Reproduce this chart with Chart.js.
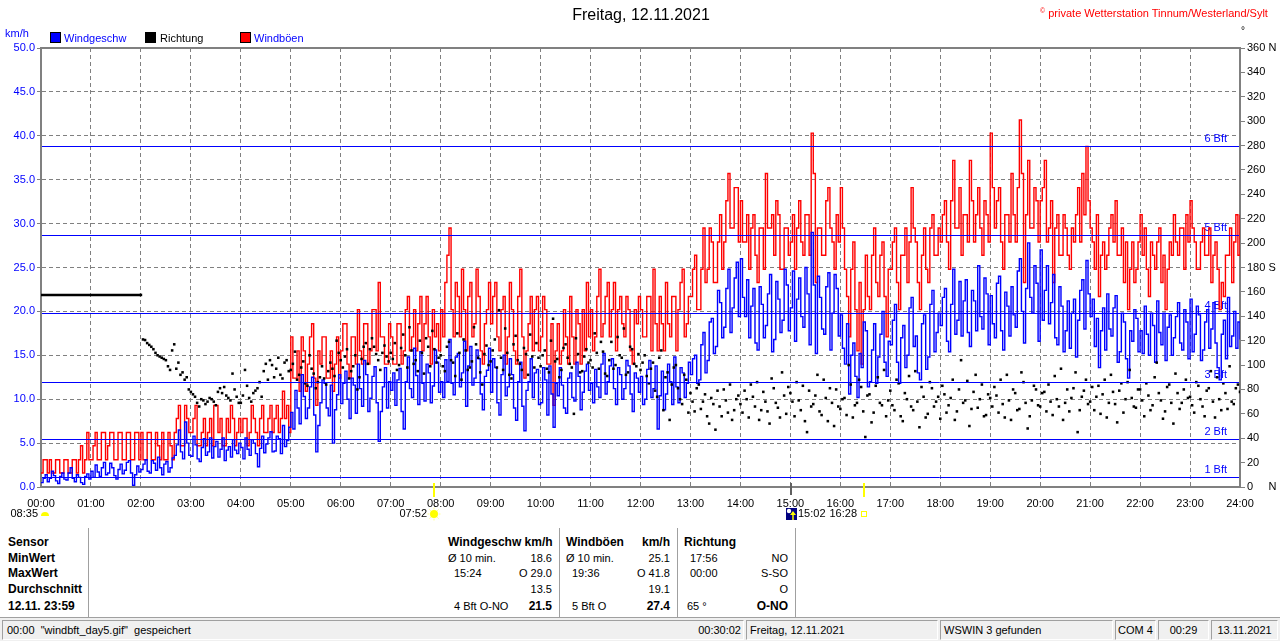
<!DOCTYPE html>
<html>
<head>
<meta charset="utf-8">
<script src="https://cdn.jsdelivr.net/npm/chart.js@4.4.1/dist/chart.umd.min.js"></script>
<style>
  html, body { margin: 0; padding: 0; background: #fff; }
  #wrap { position: relative; width: 1280px; height: 641px; overflow: hidden; font-family: "Liberation Sans", Arial, sans-serif; }
  #c { position: absolute; left: 0; top: 0; }
  .t { position: absolute; font-size: 11px; line-height: 14px; white-space: pre; color: #000; }
  .b { font-weight: bold; font-size: 12px; }
  .r { text-align: right; }
  .sep { position: absolute; top: 528px; width: 1px; height: 89px; background: #a0a0a0; }
  .sq { position: absolute; width: 9px; height: 9px; border: 1px solid #000; top: 32px; }
  #status { position: absolute; left: 0; top: 617px; width: 1280px; height: 24px; background: #f0f0f0; border-top: 1px solid #a0a0a0; }
  .pn { position: absolute; top: 2px; height: 18px; border-top: 1px solid #a0a0a0; border-left: 1px solid #a0a0a0; border-bottom: 1px solid #fff; border-right: 1px solid #fff; font-size: 11px; line-height: 18px; white-space: pre; overflow: hidden; }
</style>
</head>
<body>
<div id="wrap">
  <canvas id="c" width="1280" height="528"></canvas>

  <div class="t" style="left:0;width:1282px;top:5px;text-align:center;font-size:16px;line-height:20px;">Freitag, 12.11.2021</div>
  <div class="t" style="left:1040px;top:4px;color:#ff0000;"><span style="font-size:7px;vertical-align:4px;">©</span> private Wetterstation Tinnum/Westerland/Sylt</div>
  <div class="t" style="left:1241px;top:24px;font-size:10px;">°</div>
  <div class="t" style="left:5px;top:26px;color:#0000ff;">km/h</div>

  <div class="sq" style="left:50px;background:#0000ff;"></div>
  <div class="t" style="left:64px;top:31px;color:#0000ff;">Windgeschw</div>
  <div class="sq" style="left:145px;background:#000000;"></div>
  <div class="t" style="left:160px;top:31px;">Richtung</div>
  <div class="sq" style="left:240px;background:#ff0000;"></div>
  <div class="t" style="left:254px;top:31px;color:#0000ff;">Windböen</div>

  <!-- table -->
  <div class="sep" style="left:88px;"></div>
  <div class="sep" style="left:559px;"></div>
  <div class="sep" style="left:677px;"></div>
  <div class="sep" style="left:795px;"></div>

  <div class="t b" style="left:8px;top:535px;">Sensor</div>
  <div class="t b" style="left:8px;top:551px;">MinWert</div>
  <div class="t b" style="left:8px;top:566px;">MaxWert</div>
  <div class="t b" style="left:8px;top:582px;">Durchschnitt</div>
  <div class="t b" style="left:8px;top:599px;">12.11. 23:59</div>

  <div class="t b" style="left:448px;top:535px;">Windgeschw km/h</div>
  <div class="t" style="left:448px;top:551px;">Ø 10 min.</div>
  <div class="t r" style="right:728px;top:551px;">18.6</div>
  <div class="t" style="left:454px;top:566px;">15:24</div>
  <div class="t r" style="right:728px;top:566px;">O 29.0</div>
  <div class="t r" style="right:728px;top:582px;">13.5</div>
  <div class="t" style="left:454px;top:599px;">4 Bft O-NO</div>
  <div class="t b r" style="right:728px;top:599px;">21.5</div>

  <div class="t b" style="left:566px;top:535px;">Windböen</div>
  <div class="t b r" style="right:610px;top:535px;">km/h</div>
  <div class="t" style="left:566px;top:551px;">Ø 10 min.</div>
  <div class="t r" style="right:610px;top:551px;">25.1</div>
  <div class="t" style="left:572px;top:566px;">19:36</div>
  <div class="t r" style="right:610px;top:566px;">O 41.8</div>
  <div class="t r" style="right:610px;top:582px;">19.1</div>
  <div class="t" style="left:572px;top:599px;">5 Bft O</div>
  <div class="t b r" style="right:610px;top:599px;">27.4</div>

  <div class="t b" style="left:684px;top:535px;">Richtung</div>
  <div class="t" style="left:690px;top:551px;">17:56</div>
  <div class="t r" style="right:492px;top:551px;">NO</div>
  <div class="t" style="left:690px;top:566px;">00:00</div>
  <div class="t r" style="right:492px;top:566px;">S-SO</div>
  <div class="t r" style="right:492px;top:582px;">O</div>
  <div class="t" style="left:687px;top:599px;">65 °</div>
  <div class="t b r" style="right:492px;top:599px;">O-NO</div>

  <div id="status">
    <div class="pn" style="left:2px;width:740px;"><span style="position:absolute;left:4px;">00:00  "windbft_day5.gif"  gespeichert</span><span style="position:absolute;right:2px;">00:30:02</span></div>
    <div class="pn" style="left:746px;width:190px;"> Freitag, 12.11.2021</div>
    <div class="pn" style="left:940px;width:171px;"> WSWIN 3 gefunden</div>
    <div class="pn" style="left:1115px;width:39px;text-align:center;">COM 4</div>
    <div class="pn" style="left:1158px;width:49px;text-align:center;">00:29</div>
    <div class="pn" style="left:1211px;width:65px;text-align:center;">13.11.2021</div>
  </div>
</div>

<script>
// ---------------- DATA ----------------
// main readings every 5 minutes (00:00 .. 24:00), extra readings at hh:m2:30 / hh:m7:30
const STEP_MIN = 5;
const MID_OFFSET = 2.5;

const windSpeed = [
  0.5, 1.4, 1.0, 1.3, 0.4, 1.6, 0.8, 2.2, 0.6, 1.1, 0.3, 1.5,
  1.8, 2.5, 1.2, 2.8, 1.6, 2.2, 0.9, 2.6, 1.9, 3.0, 0.2, 2.4,
  2.0, 3.1, 1.6, 2.7, 3.4, 1.4, 2.9, 2.2, 3.6, 6.5, 3.2, 5.0,
  3.5, 4.8, 2.9, 5.5, 4.0, 3.3, 5.2, 4.3, 3.0, 4.6, 5.4, 3.8,
  4.5, 5.6, 3.6, 5.0, 2.3, 5.8, 4.9, 6.3, 4.1, 5.5, 7.0, 5.3,
  8.5, 11.0, 7.2, 10.3, 9.0, 12.5, 4.0, 9.6, 11.8, 8.1, 5.0, 10.5,
  9.5, 13.2, 7.8, 11.6, 14.0, 9.2, 12.8, 10.1, 13.7, 5.2, 11.4, 9.0,
  11.0, 9.3, 13.5, 6.6, 14.8, 10.2, 12.7, 15.4, 9.8, 13.0, 11.5, 14.2,
  12.0, 14.5, 16.8, 10.5, 15.2, 13.0, 9.2, 16.0, 12.4, 14.6, 8.8, 13.3,
  10.8, 13.6, 8.2, 15.0, 11.4, 12.8, 7.6, 14.2, 6.4, 12.0, 10.2, 13.4,
  9.6, 12.2, 13.8, 6.8, 10.4, 11.6, 8.4, 13.0, 9.8, 12.6, 10.8, 14.0,
  11.8, 13.4, 10.2, 15.2, 12.0, 14.6, 9.4, 12.8, 11.2, 13.8, 8.6, 12.4,
  12.6, 10.0, 14.4, 11.2, 6.6, 13.2, 10.6, 12.0, 14.8, 9.6, 13.0, 11.8,
  12.8, 15.0, 12.2, 17.6, 14.4, 19.2, 16.0, 21.0, 18.2, 24.8, 20.4, 25.6,
  26.0, 19.4, 17.0, 22.6, 15.6, 20.8, 18.4, 24.2, 16.8, 21.4, 19.0, 23.0,
  20.4, 16.6, 23.8, 18.2, 22.0, 29.0, 15.2, 21.6, 17.4, 24.4, 19.8, 22.6,
  19.6, 14.0, 10.6, 16.4, 10.2, 13.6, 17.8, 12.0, 18.6, 14.8, 20.0, 12.6,
  16.2, 20.8, 11.8, 18.4, 15.0, 21.6, 17.2, 12.2, 19.6, 14.8, 22.4, 17.6,
  18.4, 22.6, 15.4, 24.8, 19.0, 17.2, 23.6, 16.0, 21.2, 25.2, 18.0, 22.0,
  21.8, 17.0, 24.0, 15.6, 20.6, 22.8, 18.2, 26.0, 16.4, 27.8, 19.8, 23.2,
  27.0, 22.4, 18.6, 24.2, 16.2, 20.6, 17.8, 15.8, 21.4, 19.0, 23.6, 25.8,
  19.4, 16.0, 13.6, 20.4, 22.0, 17.2, 21.8, 15.4, 18.8, 12.4, 16.6, 19.2,
  17.8, 20.6, 15.0, 18.4, 21.2, 16.2, 14.4, 19.6, 17.0, 21.0, 15.6, 18.8,
  21.4, 17.4, 19.6, 15.6, 20.2, 18.0, 16.4, 12.2, 19.0, 21.6, 17.2, 15.8,
  16.8
];

const windSpeedMid = [
  1.0, 0.6, 1.8, 0.7, 1.2, 0.9, 1.6, 1.0, 1.4, 0.5, 1.2, 0.9,
  1.1, 1.7, 2.2, 1.4, 2.7, 1.3, 2.0, 1.5, 2.8, 1.6, 1.4, 1.7,
  2.6, 1.8, 3.0, 1.9, 2.2, 2.6, 1.7, 3.3, 4.8, 4.0, 7.4, 3.6,
  5.8, 3.2, 4.5, 3.6, 5.6, 4.6, 3.4, 5.6, 4.2, 3.4, 4.2, 5.0,
  3.2, 4.3, 5.4, 3.8, 4.4, 3.9, 5.6, 4.0, 5.8, 3.8, 4.6, 6.8,
  6.6, 9.0, 12.8, 7.8, 11.4, 8.2, 7.0, 12.2, 9.0, 11.6, 8.8, 12.8,
  11.8, 10.0, 12.4, 8.4, 11.2, 14.4, 8.6, 12.6, 9.6, 8.6, 13.6, 12.0,
  13.0, 12.2, 8.6, 12.0, 11.2, 15.8, 9.4, 11.8, 14.0, 9.6, 15.6, 10.8,
  10.2, 12.0, 11.8, 14.8, 11.4, 16.6, 13.8, 11.6, 15.6, 10.6, 12.6, 15.8,
  14.6, 9.6, 12.8, 10.4, 14.6, 9.0, 12.0, 9.2, 11.0, 14.6, 13.0, 9.4,
  13.6, 8.2, 10.6, 11.8, 13.6, 9.0, 12.4, 10.2, 14.2, 8.8, 13.2, 11.0,
  9.6, 11.4, 14.0, 10.6, 13.8, 11.2, 13.6, 10.0, 14.4, 10.6, 13.0, 10.8,
  9.4, 13.4, 10.2, 13.8, 10.4, 8.8, 14.0, 9.4, 11.4, 13.6, 10.2, 14.2,
  14.6, 11.8, 16.2, 13.0, 18.8, 15.2, 22.4, 17.0, 22.6, 17.6, 23.8, 19.4,
  21.6, 23.6, 20.6, 16.4, 22.8, 17.0, 22.0, 15.4, 23.4, 17.6, 24.8, 17.8,
  24.6, 21.4, 19.4, 25.0, 16.2, 23.0, 24.0, 18.0, 22.8, 15.6, 24.2, 17.2,
  15.8, 18.6, 15.0, 12.6, 15.2, 18.8, 11.4, 15.6, 11.8, 17.4, 14.2, 16.6,
  19.0, 14.2, 17.0, 13.6, 20.4, 16.0, 13.0, 18.6, 13.4, 20.8, 15.4, 19.8,
  21.6, 16.6, 20.8, 17.4, 23.4, 21.2, 17.6, 22.4, 17.8, 19.4, 23.8, 16.2,
  18.6, 23.2, 17.8, 22.2, 17.2, 19.6, 24.6, 20.0, 22.6, 21.6, 25.2, 16.6,
  19.0, 25.2, 21.0, 17.0, 22.8, 15.4, 21.2, 19.8, 14.8, 22.4, 18.0, 22.0,
  21.4, 19.2, 17.8, 15.6, 18.0, 20.4, 14.2, 19.8, 14.6, 17.8, 20.2, 15.4,
  15.2, 17.4, 19.8, 14.2, 17.6, 19.8, 18.2, 15.0, 19.4, 16.4, 20.2, 14.6,
  15.4, 20.6, 14.4, 18.8, 15.8, 21.0, 13.6, 17.4, 14.6, 16.0, 20.0, 18.8
];

const windGust = [
  1.6, 3.1, 3.1, 1.6, 3.1, 1.6, 3.1, 1.6, 3.1, 3.1, 1.6, 6.2,
  3.1, 6.2, 3.1, 6.2, 4.7, 6.2, 3.1, 6.2, 3.1, 6.2, 3.1, 6.2,
  6.2, 3.1, 6.2, 3.1, 4.7, 6.2, 3.1, 4.7, 6.2, 9.3, 4.7, 7.8,
  6.2, 9.3, 4.7, 7.8, 6.2, 4.7, 9.3, 7.8, 4.7, 6.2, 7.8, 6.2,
  6.2, 7.8, 6.2, 7.8, 4.7, 9.3, 6.2, 9.3, 7.8, 6.2, 10.9, 9.3,
  17.1, 12.4, 10.9, 15.5, 14.0, 18.6, 9.3, 14.0, 17.1, 12.4, 10.9, 17.1,
  15.5, 18.6, 12.4, 17.1, 20.2, 14.0, 18.6, 15.5, 20.2, 23.3, 17.1, 14.0,
  17.1, 14.0, 18.6, 15.5, 21.7, 17.1, 15.5, 21.7, 18.6, 17.1, 20.2, 18.6,
  20.2, 23.3, 29.5, 17.1, 21.7, 24.8, 15.5, 23.3, 18.6, 21.7, 14.0, 20.2,
  18.6, 23.3, 15.5, 21.7, 17.1, 20.2, 14.0, 24.8, 12.4, 18.6, 15.5, 21.7,
  17.1, 20.2, 14.0, 9.3, 18.6, 15.5, 17.1, 21.7, 14.0, 18.6, 20.2, 23.3,
  20.2, 17.1, 24.8, 18.6, 23.3, 20.2, 15.5, 21.7, 17.1, 20.2, 14.0, 18.6,
  20.2, 17.1, 21.7, 24.8, 15.5, 18.6, 23.3, 17.1, 21.7, 20.2, 24.8, 18.6,
  21.7, 26.4, 20.2, 29.5, 24.8, 27.9, 23.3, 31.0, 27.9, 35.7, 29.5, 34.1,
  32.6, 27.9, 24.8, 31.0, 23.3, 29.5, 35.7, 29.5, 26.4, 31.0, 24.8, 29.5,
  27.9, 24.8, 32.6, 26.4, 31.0, 40.3, 23.3, 29.5, 26.4, 34.1, 27.9, 31.0,
  34.1, 24.8, 17.1, 27.9, 15.5, 14.0, 26.4, 20.2, 29.5, 21.7, 27.9, 17.1,
  24.8, 29.5, 20.2, 26.4, 23.3, 34.1, 27.9, 20.2, 29.5, 23.3, 31.0, 26.4,
  27.9, 32.6, 24.8, 37.2, 29.5, 26.4, 31.0, 37.2, 27.9, 34.1, 26.4, 31.0,
  40.3, 29.5, 34.1, 24.8, 31.0, 35.7, 27.9, 41.8, 23.3, 37.2, 29.5, 32.6,
  32.6, 37.2, 29.5, 23.3, 31.0, 26.4, 29.5, 24.8, 27.9, 34.1, 35.7, 38.8,
  29.5, 24.8, 21.7, 27.9, 26.4, 31.0, 32.6, 26.4, 23.3, 20.2, 27.9, 24.8,
  31.0, 29.5, 21.7, 26.4, 27.9, 23.3, 20.2, 27.9, 31.0, 26.4, 29.5, 31.0,
  32.6, 27.9, 24.8, 29.5, 26.4, 23.3, 27.9, 20.2, 21.7, 26.4, 23.3, 31.0,
  31.0
];

const windGustMid = [
  3.1, 1.6, 1.6, 3.1, 1.6, 3.1, 1.6, 3.1, 1.6, 4.7, 3.1, 3.1,
  4.7, 3.1, 6.2, 3.1, 6.2, 3.1, 6.2, 3.1, 6.2, 3.1, 6.2, 3.1,
  3.1, 6.2, 3.1, 6.2, 3.1, 3.1, 6.2, 3.1, 7.8, 4.7, 9.3, 6.2,
  7.8, 4.7, 6.2, 4.7, 7.8, 9.3, 6.2, 4.7, 7.8, 9.3, 4.7, 7.8,
  7.8, 4.7, 9.3, 6.2, 7.8, 6.2, 7.8, 6.2, 9.3, 7.8, 7.8, 6.2,
  12.4, 15.5, 17.1, 10.9, 17.1, 12.4, 15.5, 17.1, 12.4, 15.5, 14.0, 12.4,
  18.6, 14.0, 17.1, 14.0, 15.5, 18.6, 14.0, 20.2, 15.5, 17.1, 14.0, 18.6,
  14.0, 18.6, 14.0, 20.2, 15.5, 20.2, 18.6, 15.5, 21.7, 14.0, 17.1, 15.5,
  17.1, 26.4, 20.2, 23.3, 17.1, 20.2, 21.7, 17.1, 24.8, 15.5, 18.6, 23.3,
  21.7, 17.1, 20.2, 14.0, 23.3, 15.5, 21.7, 17.1, 15.5, 21.7, 20.2, 15.5,
  21.7, 14.0, 18.6, 15.5, 14.0, 20.2, 14.0, 17.1, 20.2, 14.0, 15.5, 17.1,
  15.5, 21.7, 17.1, 21.7, 17.1, 23.3, 20.2, 18.6, 21.7, 15.5, 20.2, 21.7,
  17.1, 21.7, 15.5, 18.6, 21.7, 15.5, 18.6, 21.7, 15.5, 23.3, 17.1, 21.7,
  24.8, 20.2, 24.8, 23.3, 29.5, 23.3, 27.9, 24.8, 32.6, 29.5, 34.1, 27.9,
  27.9, 31.0, 29.5, 26.4, 29.5, 24.8, 29.5, 31.0, 32.6, 24.8, 29.5, 26.4,
  31.0, 29.5, 27.9, 31.0, 26.4, 35.7, 29.5, 26.4, 32.6, 29.5, 24.8, 27.9,
  29.5, 21.7, 24.8, 20.2, 23.3, 20.2, 21.7, 26.4, 23.3, 26.4, 21.7, 24.8,
  27.9, 23.3, 26.4, 29.5, 27.9, 29.5, 23.3, 26.4, 24.8, 29.5, 26.4, 29.5,
  31.0, 27.9, 32.6, 29.5, 34.1, 31.0, 27.9, 32.6, 31.0, 29.5, 32.6, 27.9,
  34.1, 32.6, 27.9, 31.0, 27.9, 31.0, 34.1, 35.7, 31.0, 29.5, 34.1, 27.9,
  34.1, 27.9, 32.6, 29.5, 26.4, 31.0, 26.4, 29.5, 31.0, 27.9, 31.0, 32.6,
  27.9, 31.0, 26.4, 24.8, 29.5, 27.9, 26.4, 29.5, 27.9, 24.8, 23.3, 27.9,
  26.4, 24.8, 27.9, 24.8, 29.5, 26.4, 24.8, 26.4, 27.9, 29.5, 24.8, 27.9,
  29.5, 24.8, 27.9, 26.4, 29.5, 26.4, 24.8, 23.3, 26.4, 29.5, 27.9, 26.4
];

// wind direction (degrees) on the 5-minute grid
const windDir = [
  157.5, 157.5, 157.5, 157.5, 157.5, 157.5, 157.5, 157.5, 157.5, 157.5, 157.5, 157.5,
  157.5, 157.5, 157.5, 157.5, 157.5, 157.5, 157.5, 157.5, 157.5, 157.5, 157.5, 157.5,
  157.5, 120.5, 116.5, 113, 108, 106, 104, 96, 117, 102, 94, 90,
  78, 74, 66, 71, 70, 72, 67, 81, 82, 73, 93, 74,
  69, 96, 73, 77, 81, 74, 101, 104, 90, 106, 89, 104,
  96, 111, 92, 103, 83, 97, 81, 90, 89, 95, 97, 120,
  104, 107, 89, 99, 80, 105, 118, 113, 115, 104, 110, 107,
  110, 118, 100, 125, 98, 112, 104, 120, 93, 115, 128, 102,
  108, 95, 119, 102, 126, 88, 112, 98, 131, 106, 84, 116,
  103, 121, 145, 96, 110, 89, 124, 101, 114, 92, 107, 118,
  99, 112, 94, 138, 105, 96, 117, 101, 60, 109, 95, 113,
  104, 126, 97, 111, 91, 119, 100, 108, 130, 94, 113, 99,
  96, 108, 85, 102, 74, 112, 90, 55, 98, 81, 68, 88,
  77, 62, 84, 70, 58, 73, 47, 66, 80, 61, 55, 72,
  68, 79, 57, 74, 86, 63, 70, 52, 81, 65, 94, 60,
  77, 58, 71, 83, 45, 66, 75, 62, 88, 54, 69, 80,
  64, 73, 100, 57, 69, 82, 41, 76, 61, 90, 67, 58,
  79, 63, 85, 54, 72, 66, 95, 49, 74, 60, 81, 70,
  56, 76, 67, 88, 62, 104, 71, 50, 78, 65, 84, 59,
  73, 82, 61, 68, 92, 55, 77, 64, 86, 48, 71, 80,
  66, 78, 84, 59, 72, 97, 69, 62, 81, 45, 74, 88,
  70, 63, 83, 76, 57, 92, 68, 79, 61, 86, 73, 65,
  80, 58, 75, 67, 102, 71, 62, 84, 52, 77, 69, 88,
  74, 61, 83, 66, 79, 95, 57, 72, 85, 64, 70, 81,
  78
];

// extra direction readings between the grid points, 02:02:30 .. 23:57:30
const DIR_MID_START = 122.5;
const windDirMid = [
  121, 118, 115, 110, 107, 105, 99, 112, 97, 92, 88, 80,
  76, 69, 72, 68, 73, 70, 78, 77, 75, 71, 80, 69,
  75, 83, 70, 79, 86, 95, 88, 100, 97, 92, 102, 95,
  101, 88, 98, 85, 108, 93, 86, 99, 84, 102, 91, 110,
  98, 113, 95, 108, 90, 115, 101, 122, 109, 96, 116, 103,
  105, 96, 114, 108, 131, 101, 95, 110, 122, 99, 113, 106,
  99, 115, 104, 91, 110, 121, 96, 103, 117, 94, 109, 100,
  112, 98, 106, 130, 92, 117, 104, 96, 109, 125, 98, 106,
  108, 97, 120, 103, 90, 114, 106, 98, 122, 94, 107, 102,
  98, 110, 119, 93, 104, 97, 123, 106, 92, 115, 101, 109,
  102, 91, 97, 79, 106, 63, 94, 84, 100, 72, 92, 61,
  70, 81, 64, 76, 52, 68, 79, 58, 71, 84, 63, 75,
  61, 72, 84, 66, 55, 78, 62, 89, 69, 57, 75, 82,
  70, 86, 63, 54, 79, 68, 92, 59, 73, 81, 50, 66,
  72, 59, 84, 67, 88, 62, 75, 53, 83, 69, 96, 71,
  67, 88, 58, 77, 91, 63, 70, 82, 57, 86, 66, 74,
  83, 61, 73, 55, 80, 69, 87, 64, 92, 72, 58, 76,
  66, 75, 88, 57, 71, 80, 63, 94, 69, 58, 83, 67,
  77, 62, 70, 91, 66, 55, 80, 73, 94, 63, 79, 68,
  82, 74, 60, 88, 69, 78, 53, 85, 72, 96, 66, 80,
  71, 85, 63, 90, 77, 56, 82, 69, 93, 64, 80, 73,
  67, 86, 72, 58, 81, 70, 90, 63, 77, 99, 68, 84
];

// Beaufort threshold lines (km/h) and their labels
const bftLevels = [1.1, 5.5, 12.0, 19.8, 28.7, 38.8];
const bftLabels = ['1 Bft', '2 Bft', '3 Bft', '4 Bft', '5 Bft', '6 Bft'];

// astronomical markers (minutes of day) and labels
const dayLengthLabel = '08:35';
const sunriseMin = 472, sunriseLabel = '07:52';
const moonMin = 902, moonLabel = '15:02';
const sunsetMin = 988, sunsetLabel = '16:28';

// direction tick labels
const dirNames = { 0: '0     N', 180: '180 S', 360: '360 N' };

// ---------------- CHART ----------------
const FONT = '"Liberation Sans", Arial, sans-serif';
const toXY = (arr, start) => arr.map((v, i) => ({ x: start + i * STEP_MIN, y: v }));
// merge the 5-minute readings with the readings in between, in time order
const merge = (main, mid) => {
  const out = [];
  main.forEach((v, i) => {
    out.push({ x: i * STEP_MIN, y: v });
    if (i < mid.length) out.push({ x: i * STEP_MIN + MID_OFFSET, y: mid[i] });
  });
  return out;
};
const pad2 = n => (n < 10 ? '0' : '') + n;

const overlay = {
  id: 'overlay',
  beforeDatasetsDraw(chart) {
    const { ctx, chartArea: a, scales } = chart;
    const y = scales.y;
    ctx.save();
    ctx.font = '11px ' + FONT;
    ctx.fillStyle = '#0000ff';
    ctx.textAlign = 'right';
    ctx.textBaseline = 'alphabetic';
    bftLevels.forEach((v, i) => {
      ctx.fillText(bftLabels[i], a.right - 13, Math.round(y.getPixelForValue(v)) - 4);
    });
    ctx.restore();
  },
  afterDatasetsDraw(chart) {
    const { ctx, chartArea: a, scales } = chart;
    const y = scales.y, x = scales.x;
    ctx.save();
    // Bft lines
    ctx.strokeStyle = '#0000ff';
    ctx.lineWidth = 1;
    bftLevels.forEach(v => {
      const py = Math.round(y.getPixelForValue(v)) + 0.5;
      ctx.beginPath(); ctx.moveTo(a.left + 1, py); ctx.lineTo(a.right - 1, py); ctx.stroke();
    });
    // top frame
    ctx.strokeStyle = '#808080';
    ctx.lineWidth = 2;
    ctx.beginPath(); ctx.moveTo(a.left - 1, a.top); ctx.lineTo(a.right + 1, a.top); ctx.stroke();

    const ty = 514;
    const sx = Math.round(x.getPixelForValue(sunriseMin));
    const mx = Math.round(x.getPixelForValue(moonMin));
    const ex = Math.round(x.getPixelForValue(sunsetMin));

    // axis ticks for sunrise / sunset / moon
    ctx.lineWidth = 2;
    ctx.strokeStyle = '#ffff00';
    [sx, ex].forEach(px => { ctx.beginPath(); ctx.moveTo(px, a.bottom - 4); ctx.lineTo(px, a.bottom + 10); ctx.stroke(); });
    ctx.strokeStyle = '#606060';
    ctx.beginPath(); ctx.moveTo(mx - 1, a.bottom - 4); ctx.lineTo(mx - 1, a.bottom + 8); ctx.stroke();

    // texts
    ctx.font = '11px ' + FONT;
    ctx.fillStyle = '#000';
    ctx.textBaseline = 'middle';
    ctx.textAlign = 'right';
    ctx.fillText(dayLengthLabel, a.left - 3, ty);
    ctx.fillText(sunriseLabel, sx - 7, ty);
    ctx.fillText(sunsetLabel, ex - 7, ty);
    ctx.textAlign = 'left';
    ctx.fillText(moonLabel, mx + 6, ty);

    // day-length half sun
    ctx.fillStyle = '#ffff00';
    ctx.beginPath(); ctx.arc(a.left + 4, ty + 2, 4, Math.PI, 2 * Math.PI); ctx.closePath(); ctx.fill();

    // sunrise sun with rays
    ctx.strokeStyle = '#ffff90';
    ctx.lineWidth = 1;
    for (let k = 0; k < 8; k++) {
      const ang = k * Math.PI / 4;
      ctx.beginPath();
      ctx.moveTo(sx + Math.cos(ang) * 4.5, ty + Math.sin(ang) * 4.5);
      ctx.lineTo(sx + Math.cos(ang) * 6.5, ty + Math.sin(ang) * 6.5);
      ctx.stroke();
    }
    ctx.fillStyle = '#ffff00';
    ctx.beginPath(); ctx.arc(sx, ty, 4, 0, 2 * Math.PI); ctx.fill();

    // moon icon
    ctx.fillStyle = '#000080';
    ctx.fillRect(mx - 6, ty - 6, 11, 12);
    ctx.fillStyle = '#ffffff';
    ctx.beginPath(); ctx.arc(mx - 3, ty - 3, 2.2, 0, 2 * Math.PI); ctx.fill();
    ctx.strokeStyle = '#ffff00';
    ctx.fillStyle = '#ffff00';
    ctx.lineWidth = 1.5;
    ctx.beginPath(); ctx.moveTo(mx + 1, ty + 6); ctx.lineTo(mx + 1, ty - 1); ctx.stroke();
    ctx.beginPath(); ctx.moveTo(mx - 2, ty + 1); ctx.lineTo(mx + 1, ty - 3); ctx.lineTo(mx + 4, ty + 1); ctx.closePath(); ctx.fill();

    // sunset small square
    ctx.strokeStyle = '#ffff00';
    ctx.lineWidth = 1;
    ctx.strokeRect(ex - 2.5, ty - 2.5, 5, 5);
    ctx.restore();
  }
};

const dotStyle = {
  yAxisID: 'y2',
  order: 1,
  pointStyle: 'rect',
  pointRadius: c => (c.raw && c.raw.x < 120 ? 0 : 1.8),
  pointBorderWidth: 0,
  pointBackgroundColor: '#000000'
};

new Chart(document.getElementById('c'), {
  type: 'line',
  data: {
    datasets: [
      Object.assign({
        label: 'Richtung',
        data: toXY(windDir, 0),
        borderColor: '#000000',
        borderWidth: 2.5,
        segment: { borderColor: c => (c.p1.parsed.x <= 120 ? '#000000' : 'rgba(0,0,0,0)') }
      }, dotStyle),
      Object.assign({
        label: 'Richtung (Zwischenwerte)',
        data: toXY(windDirMid, DIR_MID_START),
        showLine: false
      }, dotStyle),
      {
        label: 'Windgeschw',
        data: merge(windSpeed, windSpeedMid),
        yAxisID: 'y',
        order: 2,
        borderColor: '#0000ff',
        borderWidth: 1.4,
        stepped: true,
        pointRadius: 0
      },
      {
        label: 'Windböen',
        data: merge(windGust, windGustMid),
        yAxisID: 'y',
        order: 3,
        borderColor: '#ff0000',
        borderWidth: 1.4,
        stepped: true,
        pointRadius: 0
      }
    ]
  },
  options: {
    responsive: false,
    animation: false,
    devicePixelRatio: 1,
    layout: { padding: { top: 48, left: 0, right: 0, bottom: 0 } },
    plugins: { legend: { display: false }, tooltip: { enabled: false }, title: { display: false } },
    scales: {
      x: {
        type: 'linear', min: 0, max: 1440,
        ticks: {
          stepSize: 60, autoSkip: false, maxRotation: 0, minRotation: 0,
          color: '#000', padding: 10, font: { family: FONT, size: 11 },
          callback: v => pad2(Math.round(v / 60)) + ':00'
        },
        grid: { color: '#808080', lineWidth: 1, drawTicks: false },
        border: { display: true, color: '#808080', width: 2, dash: [4, 3] },
        afterFit: s => { s.height = 41; }
      },
      y: {
        position: 'left', min: 0, max: 50,
        ticks: { stepSize: 5, color: '#0000ff', padding: 2, font: { family: FONT, size: 11 }, callback: v => v.toFixed(1) },
        grid: { color: '#808080', lineWidth: 1, tickLength: 4, tickColor: '#808080' },
        border: { display: true, color: '#808080', width: 2, dash: [4, 3] },
        afterFit: s => { s.width = 41; }
      },
      y2: {
        position: 'right', min: 0, max: 360,
        ticks: { stepSize: 20, color: '#000', padding: 2, font: { family: FONT, size: 11 }, callback: v => (dirNames[v] !== undefined ? dirNames[v] : String(v)) },
        grid: { drawOnChartArea: false, tickLength: 5, tickColor: '#808080', color: '#808080' },
        border: { display: true, color: '#808080', width: 2 },
        afterFit: s => { s.width = 40; }
      }
    }
  },
  plugins: [overlay]
});
</script>
</body>
</html>
